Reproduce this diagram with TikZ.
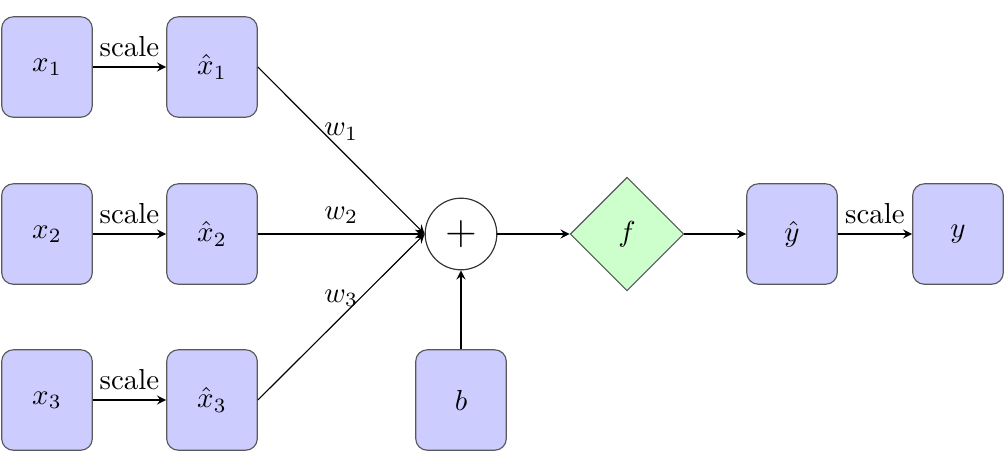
\documentclass[tikz,border=0pt]{standalone}
\usetikzlibrary{shapes.geometric}
\begin{document}
\begin{tikzpicture}[x=0.01214cm,y=-0.01214cm,>=stealth,
  box/.style={draw=black!65,fill=blue!20,rounded corners=4pt,
    minimum width=1.1cm,minimum height=1.22cm},
  sumnode/.style={draw=black!80,circle,minimum size=0.87cm,inner sep=0pt},
  actnode/.style={draw=black!65,fill=green!20,diamond,aspect=1,
    minimum size=1.38cm,inner sep=0pt}]
\useasboundingbox (0,0) rectangle (1005,468);
% inputs
\node[box] (x1) at (47,67) {\(x_1\)};
\node[box] (x2) at (47,234) {\(x_2\)};
\node[box] (x3) at (47,400) {\(x_3\)};
\node[box] (hx1) at (212,67) {\(\hat{x}_1\)};
\node[box] (hx2) at (212,234) {\(\hat{x}_2\)};
\node[box] (hx3) at (212,400) {\(\hat{x}_3\)};
% sum, bias, activation, output
\node[sumnode] (sum) at (461,234) {\Large\(+\)};
\node[box] (b) at (461,400) {\(b\)};
\node[actnode] (f) at (627,234) {\(f\)};
\node[box] (hy) at (792,234) {\(\hat{y}\)};
\node[box] (y) at (958,234) {\(y\)};
\draw[->] (x1) -- node[above]{scale} (hx1);
\draw[->] (x2) -- node[above]{scale} (hx2);
\draw[->] (x3) -- node[above]{scale} (hx3);
\draw[->] (hx1.east) -- node[above]{\(w_1\)} (sum.west);
\draw[->] (hx2.east) -- node[above]{\(w_2\)} (sum.west);
\draw[->] (hx3.east) -- node[above]{\(w_3\)} (sum.west);
\draw[->] (b) -- (sum);
\draw[->] (sum) -- (f);
\draw[->] (f) -- (hy);
\draw[->] (hy) -- node[above]{scale} (y);
\end{tikzpicture}
\end{document}
